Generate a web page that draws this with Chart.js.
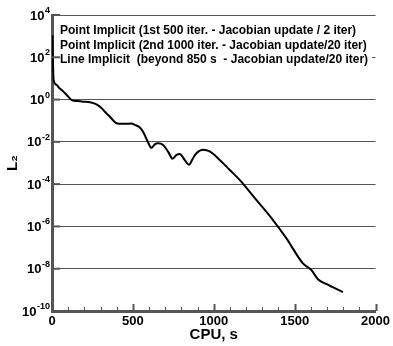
<!DOCTYPE html>
<html>
<head>
<meta charset="utf-8">
<script src="https://cdn.jsdelivr.net/npm/chart.js@4/dist/chart.umd.min.js"></script>
<style>
  html, body { margin: 0; padding: 0; background: #fff; }
</style>
</head>
<body>
<canvas id="chart" width="393" height="346"></canvas>
<script>
// CPU time (s) and L2 residual
const cpuTime = [3, 7, 10, 29, 45, 60, 91, 122, 160, 193, 225, 255, 280, 307, 330, 358, 380, 399, 430, 461,
  490, 512, 540, 563, 590, 615, 635, 656, 687, 720, 745, 770, 790, 820, 847, 870, 893, 934, 975,
  1037, 1099, 1160, 1263, 1366, 1448, 1551, 1603, 1644, 1695, 1798];
const l2Norm = [1.1e3, 3e1, 8.5, 4.9, 3.5, 2.8, 1.66, 0.95, 0.85, 0.79, 0.76, 0.68, 0.56, 0.39, 0.25, 0.155, 0.1, 0.076, 0.071, 0.071,
  0.074, 0.063, 0.05, 0.03, 0.011, 0.0052, 0.0076, 0.0085, 0.0071, 0.0032, 0.0016, 0.0024, 0.0027, 0.0014, 0.00083, 0.0016, 0.0029, 0.0042, 0.0035,
  0.0014, 4.7e-4, 1.6e-4, 1.8e-5, 2.0e-6, 2.8e-7, 1.8e-8, 8.7e-9, 3.2e-9, 1.9e-9, 7.8e-10];

const yTickExponents = [-10, -8, -6, -4, -2, 0, 2, 4];
const xLabelValues = [0, 500, 1000, 1500, 2000];
const legendLines = [
  'Point Implicit (1st 500 iter. - Jacobian update / 2 iter)',
  'Point Implicit (2nd 1000 iter. - Jacobian update/20 iter)',
  'Line Implicit  (beyond 850 s  - Jacobian update/20 iter)'
];

const FONT = '"Liberation Sans", Arial, Helvetica, sans-serif';
const AXIS_GREY = '#555';

// ticks pointing into the plot, "10^n" labels and the text box
const decor = {
  id: 'decor',
  afterDraw(chart) {
    const { ctx, chartArea: a, scales: { x, y } } = chart;
    ctx.save();
    ctx.strokeStyle = AXIS_GREY;
    // x ticks, every 100 with the 500s longer
    x.ticks.forEach(t => {
      const px = Math.round(x.getPixelForValue(t.value)) + 0.5;
      const major = t.value % 500 === 0;
      ctx.lineWidth = major ? 2 : 1;
      ctx.beginPath();
      ctx.moveTo(px, a.bottom);
      ctx.lineTo(px, a.bottom - (major ? 7 : 4));
      ctx.stroke();
    });
    // y ticks and labels
    ctx.fillStyle = '#000';
    yTickExponents.forEach(e => {
      const py = y.getPixelForValue(Math.pow(10, e));
      ctx.lineWidth = 2;
      ctx.beginPath();
      ctx.moveTo(a.left, py);
      ctx.lineTo(a.left + 8, py);
      ctx.stroke();

      const exp = String(e);
      ctx.font = 'bold 9px ' + FONT;
      const ew = ctx.measureText(exp).width;
      ctx.textAlign = 'left';
      ctx.textBaseline = 'alphabetic';
      const right = 50;
      ctx.fillText(exp, right - ew, py - 2);
      ctx.font = 'bold 13px ' + FONT;
      ctx.textAlign = 'right';
      ctx.textBaseline = 'middle';
      ctx.fillText('10', right - ew - 0.5, py + 1);
    });
    // text box
    ctx.fillStyle = '#fff';
    ctx.fillRect(60, 20, 312, 48);
    ctx.fillStyle = '#000';
    ctx.font = 'bold 12px ' + FONT;
    ctx.textAlign = 'left';
    ctx.textBaseline = 'middle';
    legendLines.forEach((s, i) => ctx.fillText(s, 60, 31 + i * 14.3));
    ctx.restore();
  }
};

new Chart(document.getElementById('chart'), {
  type: 'line',
  data: {
    datasets: [{
      data: cpuTime.map((t, i) => ({ x: t, y: l2Norm[i] })),
      borderColor: '#000',
      borderWidth: 2,
      pointRadius: 0,
      cubicInterpolationMode: 'monotone',
      fill: false
    }]
  },
  options: {
    responsive: false,
    animation: false,
    layout: { padding: { left: 0, right: 17, top: 15, bottom: 0 } },
    plugins: { legend: { display: false }, tooltip: { enabled: false } },
    scales: {
      x: {
        type: 'linear',
        min: 0,
        max: 2000,
        afterFit: s => { s.height = 35; },
        ticks: {
          stepSize: 100,
          autoSkip: false,
          maxRotation: 0,
          padding: 3,
          color: '#000',
          font: { family: FONT, size: 13, weight: 'bold' },
          callback: v => xLabelValues.includes(v) ? String(v) : ''
        },
        grid: { display: true, drawOnChartArea: false, drawTicks: false },
        border: { color: AXIS_GREY, width: 3 },
        title: {
          display: true,
          text: 'CPU, s',
          color: '#000',
          padding: { top: 0, bottom: 2 },
          font: { family: FONT, size: 15, weight: 'bold' }
        }
      },
      y: {
        type: 'logarithmic',
        min: 1e-10,
        max: 1e4,
        afterFit: s => { s.width = 52; },
        afterBuildTicks: s => { s.ticks = yTickExponents.map(e => ({ value: Math.pow(10, e) })); },
        ticks: { display: false },
        grid: { color: AXIS_GREY, lineWidth: 1, drawTicks: false },
        border: { color: AXIS_GREY, width: 3 },
        title: {
          display: true,
          text: 'L₂',
          color: '#000',
          padding: { top: 4, bottom: 0 },
          font: { family: FONT, size: 15, weight: 'bold' }
        }
      }
    }
  },
  plugins: [decor]
});
</script>
</body>
</html>
